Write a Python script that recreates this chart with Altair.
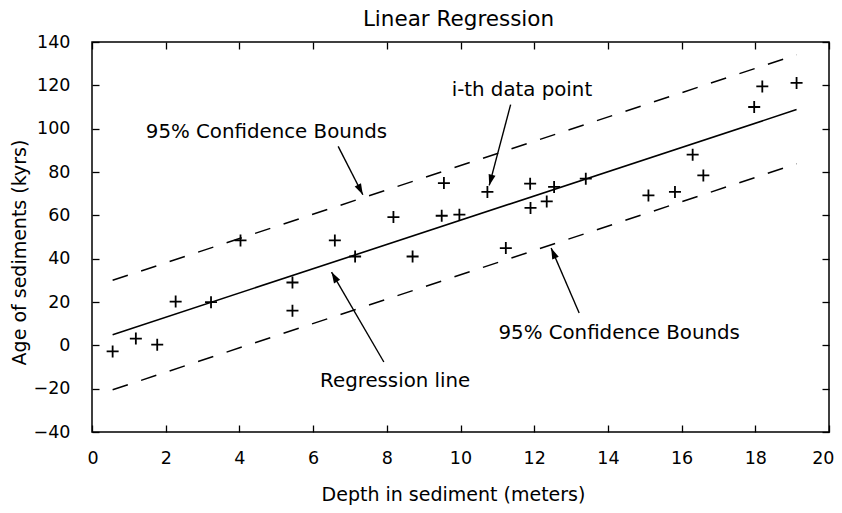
import math
import altair as alt
import pandas as pd

# ---------------- data ----------------
depth = [0.56, 1.19, 1.77, 2.27, 3.23, 4.03, 5.44, 5.44, 6.59, 7.14, 8.18, 8.70,
         9.49, 9.55, 9.97, 10.73, 11.23, 11.89, 11.90, 12.34, 12.54, 13.40,
         15.10, 15.82, 16.30, 16.59, 17.97, 18.19, 19.12]
age = [-2.8, 3.1, 0.3, 20.2, 19.9, 48.4, 29.0, 16.0, 48.4, 41.0, 59.2, 41.0,
       59.8, 74.9, 60.3, 70.8, 44.9, 74.6, 63.4, 66.4, 73.1, 76.9,
       69.2, 70.8, 88.0, 78.4, 110.0, 119.5, 121.1]

line_x = [0.56, 19.12]
fit_y = [4.9, 108.8]
upper_y = [30.0, 134.1]
lower_y = [-20.5, 83.8]

x_ticks = [0, 2, 4, 6, 8, 10, 12, 14, 16, 18, 20]
y_ticks = [-40, -20, 0, 20, 40, 60, 80, 100, 120, 140]

chart_title = "Linear Regression"
x_title = "Depth in sediment (meters)"
y_title = "Age of sediments (kyrs)"

labels = ["95% Confidence Bounds", "i-th data point", "Regression line", "95% Confidence Bounds"]
label_x = [1.46, 9.76, 6.19, 11.03]
label_y = [95.7, 114.9, -19.0, 3.0]
arrow_x0 = [6.68, 11.36, 7.92, 13.22]
arrow_y0 = [91.8, 111.1, -7.7, 14.9]
arrow_x1 = [7.35, 10.78, 6.50, 12.46]
arrow_y1 = [69.5, 73.8, 33.8, 44.9]

# ---------------- layout / style ----------------
W, H = 737, 390
XD, YD = [0, 20], [-40, 140]
FONT = "DejaVu Sans"
CROSS = "M-1,0L1,0M0,-1L0,1"
HEAD = "M0,0L0.32,1L-0.32,1Z"

px_x = W / (XD[1] - XD[0])
px_y = H / (YD[1] - YD[0])
angles = [math.degrees(math.atan2((x1 - x0) * px_x, (y1 - y0) * px_y)) % 360
          for x0, y0, x1, y1 in zip(arrow_x0, arrow_y0, arrow_x1, arrow_y1)]

xs = alt.Scale(domain=XD, nice=False, zero=False)
ys = alt.Scale(domain=YD, nice=False, zero=False)
inward = alt.ExprRef(expr="-7")

ax_bottom = alt.Axis(orient="bottom", values=x_ticks, title=x_title,
                     tickSize=inward, labelPadding=24, titlePadding=19, titleX=361,
                     labelFlush=True, labelFlushOffset=5)
ax_left = alt.Axis(orient="left", values=y_ticks, title=y_title,
                   tickSize=inward, labelPadding=29, titlePadding=4, titleY=210,
                   labelFlush=False)
ax_top = alt.Axis(orient="top", values=x_ticks, labels=False, title=chart_title,
                  titleFontSize=21.5, titlePadding=11, tickSize=inward, titleX=366)
ax_right = alt.Axis(orient="right", values=y_ticks, labels=False, title=None, tickSize=inward)

pts_df = pd.DataFrame({"depth": depth, "age": age})
fit_df = pd.DataFrame({"depth": line_x, "age": fit_y})
bounds_df = pd.DataFrame({"depth": line_x + line_x, "age": upper_y + lower_y,
                          "bound": ["upper", "upper", "lower", "lower"]})
ann_df = pd.DataFrame({"label": labels, "lx": label_x, "ly": label_y,
                       "x0": arrow_x0, "y0": arrow_y0, "x1": arrow_x1, "y1": arrow_y1,
                       "angle": angles})

points = alt.Chart(pts_df).mark_point(
    shape=CROSS, size=144, filled=False, stroke="black", strokeWidth=1.8, opacity=1
).encode(
    x=alt.X("depth:Q", scale=xs, axis=ax_bottom),
    y=alt.Y("age:Q", scale=ys, axis=ax_left),
)

fit = alt.Chart(fit_df).mark_line(color="black", strokeWidth=1.6).encode(
    x=alt.X("depth:Q", scale=xs, axis=ax_top),
    y=alt.Y("age:Q", scale=ys, axis=ax_right),
)

bounds = alt.Chart(bounds_df).mark_line(color="black", strokeWidth=1.5, strokeDash=[16, 14]).encode(
    x=alt.X("depth:Q", scale=xs, axis=None),
    y=alt.Y("age:Q", scale=ys, axis=None),
    detail="bound:N",
)

rules = alt.Chart(ann_df).mark_rule(color="black", strokeWidth=1.4).encode(
    x=alt.X("x0:Q", scale=xs, axis=None),
    y=alt.Y("y0:Q", scale=ys, axis=None),
    x2="x1:Q",
    y2="y1:Q",
)

heads = alt.Chart(ann_df).mark_point(
    shape=HEAD, size=484, filled=True, fill="black", strokeWidth=0, opacity=1
).encode(
    x=alt.X("x1:Q", scale=xs, axis=None),
    y=alt.Y("y1:Q", scale=ys, axis=None),
    angle=alt.Angle("angle:Q", scale=None),
)

texts = alt.Chart(ann_df).mark_text(
    align="left", baseline="alphabetic", font=FONT, fontSize=19.8, color="black"
).encode(
    x=alt.X("lx:Q", scale=xs, axis=None),
    y=alt.Y("ly:Q", scale=ys, axis=None),
    text="label:N",
)

chart = alt.layer(points, fit, bounds, rules, heads, texts).resolve_axis(
    x="independent", y="independent"
).properties(
    width=W,
    height=H,
    autosize=alt.AutoSizeParams(type="none"),
    padding={"left": 84, "top": 34, "right": 5, "bottom": 73},
).configure_view(
    stroke="black", strokeWidth=1.5
).configure_axis(
    labelFont=FONT, labelFontSize=17.5, labelColor="black",
    titleFont=FONT, titleFontSize=19, titleFontWeight="normal", titleColor="black",
    tickColor="black", tickWidth=1.3, domain=False, grid=False,
)

chart.save("out.html", embed_options={"renderer": "svg", "actions": False})
